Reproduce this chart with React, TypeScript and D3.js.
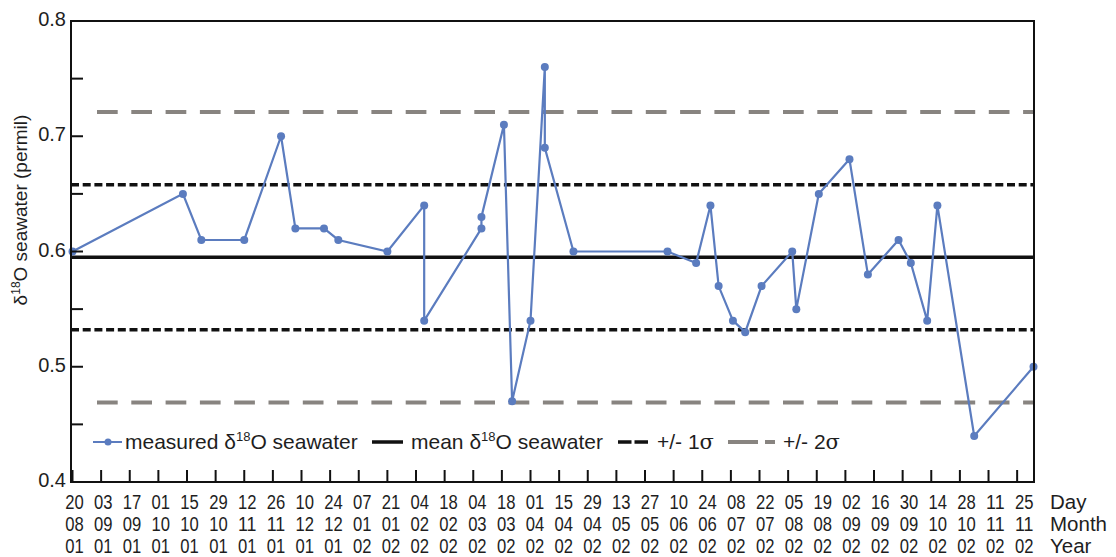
import React from 'react';
import * as d3 from 'd3';

// ---- data ----
const sampleDates = [
  '2001-08-20', '2001-10-13', '2001-10-22', '2001-11-12', '2001-11-30', '2001-12-07',
  '2001-12-21', '2001-12-28', '2002-01-21', '2002-02-08', '2002-02-08', '2002-03-08',
  '2002-03-08', '2002-03-19', '2002-03-23', '2002-04-01', '2002-04-08', '2002-04-08',
  '2002-04-22', '2002-06-07', '2002-06-21', '2002-06-28', '2002-07-02', '2002-07-09',
  '2002-07-15', '2002-07-23', '2002-08-07', '2002-08-09', '2002-08-20', '2002-09-04',
  '2002-09-13', '2002-09-28', '2002-10-04', '2002-10-12', '2002-10-17', '2002-11-04',
  '2002-12-03',
];
const d18O = [
  0.60, 0.65, 0.61, 0.61, 0.70, 0.62,
  0.62, 0.61, 0.60, 0.64, 0.54, 0.62,
  0.63, 0.71, 0.47, 0.54, 0.76, 0.69,
  0.60, 0.60, 0.59, 0.64, 0.57, 0.54,
  0.53, 0.57, 0.60, 0.55, 0.65, 0.68,
  0.58, 0.61, 0.59, 0.54, 0.64, 0.44,
  0.50,
];
const meanValue = 0.595;
const sigmaValue = 0.063;
const xDomain = ['2001-08-20', '2002-12-03'];
const tickStart = '2001-08-20';
const tickEnd = '2002-11-26';
const tickStepDays = 14;
const yDomain = [0.4, 0.8];
const yMinorTicks = [0.4, 0.45, 0.5, 0.55, 0.6, 0.65, 0.7, 0.75, 0.8];
const yLabelTicks = [0.4, 0.5, 0.6, 0.7, 0.8];
const rowTitles = ['Day', 'Month', 'Year'];
const rowFormats = ['%d', '%m', '%y'];
const legendLabels = ['measured ', 'mean ', '+/- 1', '+/- 2'];

const parse = (s: string) => new Date(s + 'T00:00:00Z');

const BLUE = '#5b7cbf';
const GRAY = '#888480';
const FONT = 'Arial, "Liberation Sans", sans-serif';
const TXT = '#1e1e1e';

export default function App() {
  const W = 1116, H = 557;
  const left = 71, right = 1034, top = 21, bottom = 482;

  const x = d3.scaleUtc().domain(xDomain.map(parse)).range([72.5, 1033.5]);
  const y = d3.scaleLinear().domain(yDomain).range([bottom, top]);

  const pts = sampleDates.map((d, i) => ({ d: parse(d), v: d18O[i] }));
  const line = d3.line<{ d: Date; v: number }>().x(p => x(p.d)).y(p => y(p.v));

  const ticks = d3.utcDay.range(parse(tickStart), parse(tickEnd), 1).filter((_, i) => i % tickStepDays === 0);
  const fmts = rowFormats.map(f => d3.utcFormat(f));
  const n = ticks.length;

  const hLines = [
    { v: meanValue, stroke: '#111', w: 3.5, dash: undefined as string | undefined, x1: left },
    { v: meanValue + sigmaValue, stroke: '#111', w: 3.5, dash: '8,3.7', x1: left },
    { v: meanValue - sigmaValue, stroke: '#111', w: 3.5, dash: '8,3.7', x1: left },
    { v: meanValue + 2 * sigmaValue, stroke: GRAY, w: 4, dash: '20.7,13.6', x1: 97 },
    { v: meanValue - 2 * sigmaValue, stroke: GRAY, w: 4, dash: '20.7,13.6', x1: 97 },
  ];

  const legY = 442;
  const legBase = 449;
  const LFS = 21;
  const delta = (label: string, tx: number) => (
    <text x={tx} y={legBase} fontSize={LFS} fontFamily={FONT} fill={TXT}>
      {label}δ<tspan fontSize={13} dy={-8}>18</tspan><tspan dy={8}>O seawater</tspan>
    </text>
  );
  const sig = (label: string, tx: number) => (
    <text x={tx} y={legBase} fontSize={LFS} fontFamily={FONT} fill={TXT}>
      {label}<tspan fontFamily='"DejaVu Serif", serif'>σ</tspan>
    </text>
  );

  return (
    <svg width={W} height={H} style={{ position: 'absolute', left: 0, top: 0, background: '#fff' }}>
      <rect x={0} y={0} width={W} height={H} fill="#fff" />
      {/* horizontal reference lines */}
      {hLines.map((l, i) => (
        <line key={i} x1={l.x1} x2={right} y1={y(l.v)} y2={y(l.v)} stroke={l.stroke}
          strokeWidth={l.w} strokeDasharray={l.dash} />
      ))}
      {/* data line */}
      <path d={line(pts) || ''} fill="none" stroke={BLUE} strokeWidth={2.2} />
      {pts.map((p, i) => (
        <circle key={i} cx={x(p.d)} cy={y(p.v)} r={4} fill={BLUE} />
      ))}
      {/* frame */}
      <rect x={left} y={top} width={right - left} height={bottom - top} fill="none" stroke="#111" strokeWidth={2} />
      {/* y ticks */}
      {yMinorTicks.map((t, i) => (
        <line key={i} x1={left} x2={left + 12} y1={y(t)} y2={y(t)} stroke="#111" strokeWidth={2} />
      ))}
      {yLabelTicks.map((t, i) => (
        <text key={i} x={66} y={y(t) + 5} textAnchor="end" fontSize={20} fontFamily={FONT} fill={TXT}>
          {d3.format('.1f')(t)}
        </text>
      ))}
      {/* x ticks */}
      {ticks.map((t, i) => (
        <line key={i} x1={x(t)} x2={x(t)} y1={bottom} y2={bottom - 12} stroke="#111" strokeWidth={2} />
      ))}
      {ticks.map((t, i) => {
        const lx = x(t) + 2 + (5 * i) / (n - 1);
        return (
          <g key={i}>
            {fmts.map((f, r) => (
              <text key={r} x={lx} y={509 + r * 22} textAnchor="middle" fontSize={20} fontFamily={FONT}
                fill={TXT} textLength={18.5} lengthAdjust="spacingAndGlyphs">
                {f(t)}
              </text>
            ))}
          </g>
        );
      })}
      {rowTitles.map((t, r) => (
        <text key={r} x={1050} y={509 + r * 22} fontSize={20.5} fontFamily={FONT} fill={TXT}>{t}</text>
      ))}
      {/* y title */}
      <text transform="translate(27,210) rotate(-90)" textAnchor="middle" fontSize={19} fontFamily={FONT} fill={TXT}>
        δ<tspan fontSize={12} dy={-7}>18</tspan><tspan dy={7}>O seawater (permil)</tspan>
      </text>
      {/* legend */}
      <line x1={93} x2={122} y1={legY} y2={legY} stroke={BLUE} strokeWidth={2} />
      <circle cx={108} cy={legY} r={3.5} fill={BLUE} />
      {delta(legendLabels[0], 125)}
      <line x1={372} x2={403} y1={legY} y2={legY} stroke="#111" strokeWidth={3.5} />
      {delta(legendLabels[1], 411)}
      <line x1={618} x2={648} y1={legY} y2={legY} stroke="#111" strokeWidth={3.5} strokeDasharray="13.5,3" />
      {sig(legendLabels[2], 657)}
      <line x1={728} x2={775} y1={legY} y2={legY} stroke={GRAY} strokeWidth={4} strokeDasharray="30,7" />
      {sig(legendLabels[3], 783)}
    </svg>
  );
}
